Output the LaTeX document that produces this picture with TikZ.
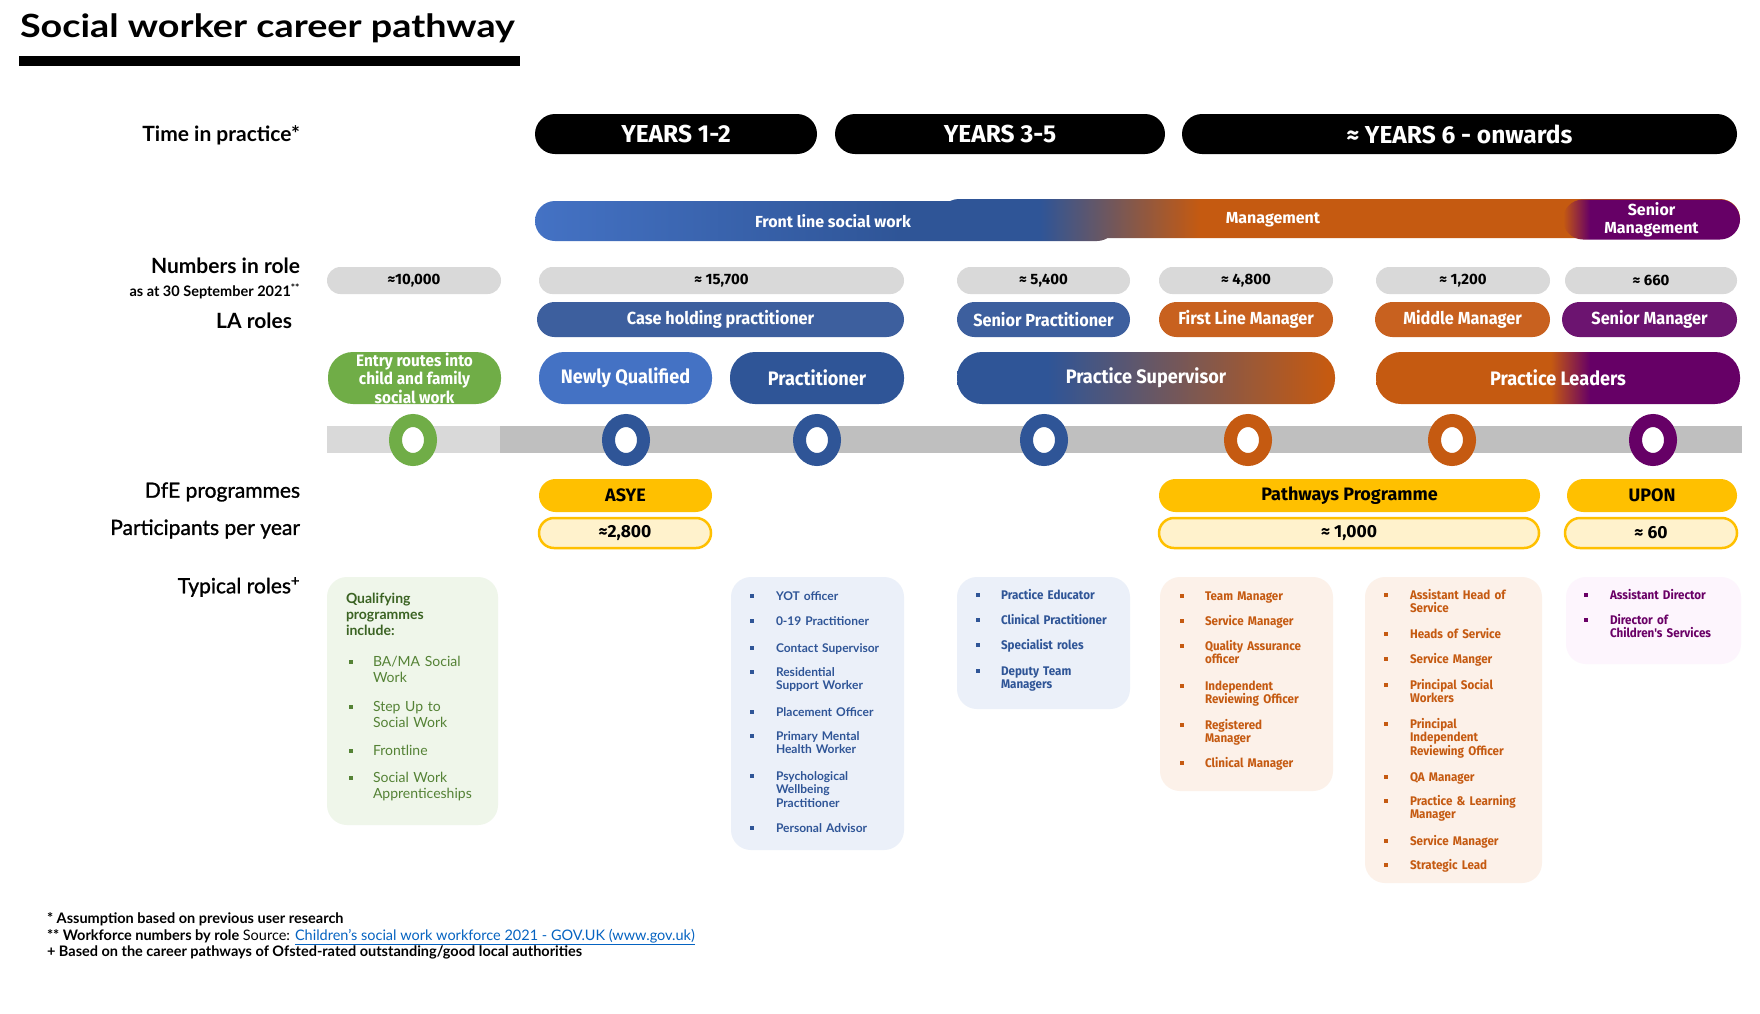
\documentclass[tikz,border=0pt]{standalone}
\usepackage{fontspec}
\usepackage{graphicx}
\setmainfont{Lato}
\newfontfamily\latomed{Lato}[FakeBold=1.2]
\newfontfamily\plexf{Fira Sans}
\newfontfamily\condf{Fira Sans}[FakeStretch=0.93]
\usetikzlibrary{shapes.geometric}

\definecolor{lblue}{HTML}{4472C4}
\definecolor{dblue}{HTML}{2F5597}
\definecolor{mblue}{HTML}{3D5F9E}
\definecolor{orng}{HTML}{C55A11}
\definecolor{lorng}{HTML}{C8611F}
\definecolor{purp}{HTML}{660066}
\definecolor{lpurp}{HTML}{6C1470}
\definecolor{grn}{HTML}{70AD47}
\definecolor{numgray}{HTML}{D9D9D9}
\definecolor{linegray}{HTML}{BFBFBF}
\definecolor{ylw}{HTML}{FFC000}
\definecolor{lylw}{HTML}{FFF2CC}
\definecolor{gbox}{HTML}{EFF6EA}
\definecolor{bbox}{HTML}{EBF0F9}
\definecolor{obox}{HTML}{FCF1E9}
\definecolor{pbox}{HTML}{FDF5FD}
\definecolor{dgreen}{HTML}{3B6323}
\definecolor{mgreen}{HTML}{548235}
\definecolor{linkblue}{HTML}{0563C1}
\definecolor{ptext}{HTML}{6A0066}
\colorlet{mixc}{orng!48!dblue}

% horizontal blends; 25bp..75bp span the filled shape
\pgfdeclarehorizontalshading{supshade}{100bp}{color(0bp)=(dblue); color(37bp)=(dblue); color(74bp)=(orng); color(100bp)=(orng)}
\pgfdeclarehorizontalshading{leadshade}{100bp}{color(0bp)=(orng); color(49bp)=(orng); color(54.4bp)=(purp); color(100bp)=(purp)}
\pgfdeclarehorizontalshading{mgmtshade}{100bp}{color(0bp)=(dblue); color(31.3bp)=(dblue); color(41.3bp)=(orng); color(100bp)=(orng)}
\pgfdeclarehorizontalshading{frontshade}{100bp}{color(0bp)=(lblue); color(25bp)=(lblue); color(56.4bp)=(dblue); color(68.4bp)=(dblue); color(75bp)=(mixc); color(100bp)=(mixc)}
\pgfdeclarehorizontalshading{smshade}{100bp}{color(0bp)=(orng); color(25bp)=(orng); color(32.6bp)=(purp); color(100bp)=(purp)}

\newcounter{itm}
% bullet x, text x, first baseline, colour, text
\newcommand\litem[5]{%
  \stepcounter{itm}%
  \fill[#4] (#1-1.9,#3-6.2) rectangle (#1+1.9,#3-2.4);
  \node[listtext, text=#4] (item\theitm) at (#2,#3) {#5};}

\begin{document}
\begin{tikzpicture}[x=1pt,y=-1pt,
  every node/.style={inner sep=0pt, outer sep=0pt},
  rowlabel/.style={anchor=east, font=\bfseries\fontsize{21}{24}\selectfont},
  rowlabelm/.style={anchor=east, font=\latomed\fontsize{21}{24}\selectfont},
  yearpill/.style={fill=black, text=white, minimum height=40, rounded corners=20,
    font=\plexf\bfseries\fontsize{24.5}{27}\selectfont},
  catbar/.style={shade, rounded corners=20},
  cattext/.style={text=white, font=\plexf\bfseries\fontsize{16}{18}\selectfont},
  numbox/.style={fill=numgray, minimum height=27, rounded corners=13.5,
    font=\plexf\bfseries\fontsize{15}{17}\selectfont},
  lapill/.style={text=white, minimum height=35, rounded corners=17.5,
    font=\condf\bfseries\fontsize{17.5}{19}\selectfont},
  rolepill/.style={text=white, minimum height=52, rounded corners=25,
    font=\condf\bfseries\fontsize{19.5}{21}\selectfont},
  ring/.style={ellipse, draw=#1, line width=13, fill=white, minimum width=35, minimum height=39},
  dfepill/.style={fill=ylw, minimum height=33, rounded corners=16.5,
    font=\plexf\bfseries\fontsize{18}{20}\selectfont},
  partpill/.style={fill=lylw, draw=ylw, line width=2.5, minimum height=30, rounded corners=15,
    font=\plexf\bfseries\fontsize{17.5}{19}\selectfont},
  tbox/.style={rounded corners=20},
  listtext/.style={anchor=base west, text width=160, align=left}
]
\useasboundingbox (0,0) rectangle (1760,1013);
\fill[white] (0,0) rectangle (1760,1013);

% title
\node[anchor=base west, font=\bfseries\fontsize{32}{36}\selectfont] (title) at (20,37) {\scalebox{1.18}[1]{Social worker career pathway}};
\fill (19,56) rectangle (520,66);

% row labels
\node[rowlabel] (lbltime) at (300,135) {Time in practice*};
\node[rowlabel] (lblnum) at (300,266) {Numbers in role};
\node[anchor=east, font=\bfseries\fontsize{14.5}{16}\selectfont] (lbldate) at (300,291) {as at 30 September 2021\textsuperscript{**}};
\node[rowlabel] (lblla) at (292,321) {LA roles};
\node[rowlabelm] (lbldfe) at (300,492) {DfE programmes};
\node[rowlabelm] (lblpart) at (300,529) {Participants per year};
\node[rowlabelm] (lbltyp) at (300,587) {Typical roles\textsuperscript{+}};

% time in practice
\node[yearpill, minimum width=282] (y12) at (676,134) {YEARS 1-2};
\node[yearpill, minimum width=330] (y35) at (1000,134) {YEARS 3-5};
\node[yearpill, minimum width=555] (y6) at (1459.5,134) {≈ YEARS 6 - onwards};

% career stages band
\node[catbar, shading=mgmtshade, minimum width=801, minimum height=39] (mgmt) at (1339.5,218.5) {};
\node[catbar, shading=frontshade, minimum width=582, minimum height=40] (front) at (826,221) {};
\node[catbar, shading=smshade, minimum width=177, minimum height=40] (smgmt) at (1651.5,219.5) {};
\node[cattext] (frontlbl) at (833,221) {Front line social work};
\node[cattext] (mgmtlbl) at (1273,220) {Management};
\node[cattext, align=center, font=\plexf\bfseries\fontsize{16}{18}\selectfont] (smgmtlbl) at (1651.5,220) {Senior\\Management};

% numbers in role
\node[numbox, minimum width=174] (n1) at (414,280.5) {≈10,000};
\node[numbox, minimum width=365] (n2) at (721.5,280.5) {≈ 15,700};
\node[numbox, minimum width=173] (n3) at (1043.5,280.5) {≈ 5,400};
\node[numbox, minimum width=174] (n4) at (1246,280.5) {≈ 4,800};
\node[numbox, minimum width=174] (n5) at (1463,280.5) {≈ 1,200};
\node[numbox, minimum width=172] (n6) at (1651,280.5) {≈ 660};

% LA roles
\node[lapill, fill=mblue, minimum width=367] (la1) at (720.5,319.5) {Case holding practitioner};
\node[lapill, fill=mblue, minimum width=173] (la2) at (1043.5,319.5) {Senior Practitioner};
\node[lapill, fill=lorng, minimum width=174] (la3) at (1246,319.5) {First Line Manager};
\node[lapill, fill=lorng, minimum width=175] (la4) at (1462.5,319.5) {Middle Manager};
\node[lapill, fill=lpurp, minimum width=175] (la5) at (1649.5,319.5) {Senior Manager};

% career stage pills
\node[rolepill, fill=grn, minimum width=173, align=center,
  font=\condf\bfseries\fontsize{16.5}{18.5}\selectfont] (r1) at (414.5,378) {Entry routes into\\child and family\\social work};
\node[rolepill, fill=lblue, minimum width=173] (r2) at (625.5,378) {Newly Qualified};
\node[rolepill, fill=dblue, minimum width=174] (r3) at (817,378) {Practitioner};
\node[rolepill, shade, shading=supshade, minimum width=378] (r4) at (1146,378) {Practice Supervisor};
\node[rolepill, shade, shading=leadshade, minimum width=364] (r5) at (1558,378) {Practice Leaders};

% timeline
\fill[linegray] (327,426) rectangle (1742,453);
\fill[numgray] (327,426) rectangle (500,453);
\node[ring=grn] (c1) at (413,440) {};
\node[ring=dblue] (c2) at (626,440) {};
\node[ring=dblue] (c3) at (817,440) {};
\node[ring=dblue] (c4) at (1044,440) {};
\node[ring=orng] (c5) at (1248,440) {};
\node[ring=orng] (c6) at (1452,440) {};
\node[ring=purp] (c7) at (1653,440) {};

% DfE programmes
\node[dfepill, minimum width=173] (d1) at (625.5,495.5) {ASYE};
\node[dfepill, minimum width=381] (d2) at (1349.5,495.5) {Pathways Programme};
\node[dfepill, minimum width=170] (d3) at (1652,495.5) {UPON};

% participants per year
\node[partpill, minimum width=172] (p1) at (625,533) {≈2,800};
\node[partpill, minimum width=380] (p2) at (1349,533) {≈ 1,000};
\node[partpill, minimum width=172] (p3) at (1651,533) {≈ 60};

% typical roles boxes
\node[tbox, fill=gbox, minimum width=171, minimum height=248] (tb1) at (412.5,701) {};
\node[tbox, fill=bbox, minimum width=173, minimum height=273] (tb2) at (817.5,713.5) {};
\node[tbox, fill=bbox, minimum width=173, minimum height=132] (tb3) at (1043.5,643) {};
\node[tbox, fill=obox, minimum width=173, minimum height=214] (tb4) at (1246.5,684) {};
\node[tbox, fill=obox, minimum width=177, minimum height=306] (tb5) at (1453.5,730) {};
\node[tbox, fill=pbox, minimum width=175, minimum height=87] (tb6) at (1653.5,620.5) {};

% entry routes
\node[anchor=base west, text width=140, align=left, text=dgreen,
  font=\bfseries\fontsize{14}{16}\selectfont] (qualhead) at (346,603) {Qualifying\\programmes\\include:};
\begin{scope}[listtext/.append style={font=\fontsize{14}{16}\selectfont}]
\litem{351}{373}{666}{mgreen}{BA/MA Social\\Work}
\litem{351}{373}{711}{mgreen}{Step Up to\\Social Work}
\litem{351}{373}{755}{mgreen}{Frontline}
\litem{351}{373}{782}{mgreen}{Social Work\\Apprenticeships}
\end{scope}

% practitioner roles
\begin{scope}[listtext/.append style={font=\bfseries\fontsize{12}{13.8}\selectfont}]
\litem{752}{776}{600}{dblue}{YOT officer}
\litem{752}{776}{625}{dblue}{0-19 Practitioner}
\litem{752}{776}{652}{dblue}{Contact Supervisor}
\litem{752}{776}{676}{dblue}{Residential\\Support Worker}
\litem{752}{776}{716}{dblue}{Placement Officer}
\litem{752}{776}{740}{dblue}{Primary Mental\\Health Worker}
\litem{752}{776}{780}{dblue}{Psychological\\Wellbeing\\Practitioner}
\litem{752}{776}{832}{dblue}{Personal Advisor}
\end{scope}

\begin{scope}[listtext/.append style={font=\condf\bfseries\fontsize{12.5}{13.6}\selectfont}]
% senior practitioner roles
\litem{978}{1001}{599}{dblue}{Practice Educator}
\litem{978}{1001}{624}{dblue}{Clinical Practitioner}
\litem{978}{1001}{649}{dblue}{Specialist roles}
\litem{978}{1001}{675}{dblue}{Deputy Team\\Managers}
% first line manager roles
\litem{1182}{1205}{600}{orng}{Team Manager}
\litem{1182}{1205}{625}{orng}{Service Manager}
\litem{1182}{1205}{650}{orng}{Quality Assurance\\officer}
\litem{1182}{1205}{690}{orng}{Independent\\Reviewing Officer}
\litem{1182}{1205}{729}{orng}{Registered\\Manager}
\litem{1182}{1205}{767}{orng}{Clinical Manager}
% middle manager roles
\litem{1386}{1410}{599}{orng}{Assistant Head of\\Service}
\litem{1386}{1410}{638}{orng}{Heads of Service}
\litem{1386}{1410}{663}{orng}{Service Manger}
\litem{1386}{1410}{689}{orng}{Principal Social\\Workers}
\litem{1386}{1410}{728}{orng}{Principal\\Independent\\Reviewing Officer}
\litem{1386}{1410}{781}{orng}{QA Manager}
\litem{1386}{1410}{805}{orng}{Practice \& Learning\\Manager}
\litem{1386}{1410}{845}{orng}{Service Manager}
\litem{1386}{1410}{869}{orng}{Strategic Lead}
% senior manager roles
\litem{1586}{1610}{599}{ptext}{Assistant Director}
\litem{1586}{1610}{624}{ptext}{Director of\\Children's Services}
\end{scope}

% footnotes
\begin{scope}[every node/.append style={anchor=base west, font=\fontsize{14.5}{16}\selectfont}]
\node (fn1) at (47,923) {\textbf{* Assumption based on previous user research}};
\node (fn2) at (47,940) {\textbf{** Workforce numbers by role} Source: \textcolor{linkblue}{\underline{Children's social work workforce 2021 - GOV.UK (www.gov.uk)}}};
\node (fn3) at (47,956) {\textbf{+ Based on the career pathways of Ofsted-rated outstanding/good local authorities}};
\end{scope}
\end{tikzpicture}
\end{document}
